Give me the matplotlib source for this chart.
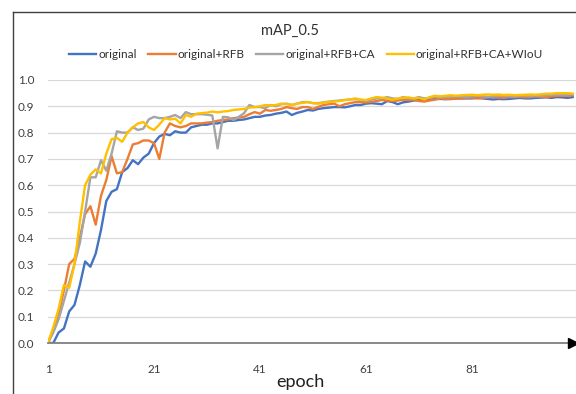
import matplotlib
matplotlib.use("Agg")
import matplotlib.pyplot as plt
from matplotlib.lines import Line2D
import numpy as np

plt.rcParams['font.family'] = ['Lato', 'DejaVu Sans']

epochs = list(range(1, 101))

original = [
    0.0, 0.0, 0.04, 0.055, 0.12, 0.145, 0.22, 0.31, 0.29, 0.34,
    0.43, 0.54, 0.575, 0.585, 0.65, 0.665, 0.695, 0.68, 0.705, 0.72,
    0.76, 0.785, 0.795, 0.79, 0.805, 0.80, 0.80, 0.82, 0.825, 0.83,
    0.83, 0.835, 0.835, 0.84, 0.845, 0.845, 0.848, 0.85, 0.855, 0.86,
    0.86, 0.865, 0.867, 0.872, 0.875, 0.88, 0.867, 0.875, 0.88, 0.886,
    0.884, 0.89, 0.893, 0.895, 0.897, 0.897, 0.896, 0.90, 0.905, 0.905,
    0.91, 0.912, 0.91, 0.908, 0.92, 0.916, 0.908, 0.915, 0.918, 0.922,
    0.924, 0.925, 0.926, 0.928, 0.928, 0.927, 0.929, 0.93, 0.93, 0.93,
    0.93, 0.932, 0.93, 0.928, 0.926, 0.928, 0.927, 0.928, 0.93, 0.932,
    0.93, 0.93, 0.932, 0.933, 0.934, 0.932, 0.935, 0.934, 0.932, 0.935,
]

rfb = [
    0.0, 0.05, 0.11, 0.20, 0.30, 0.32, 0.40, 0.49, 0.52, 0.45,
    0.56, 0.62, 0.71, 0.645, 0.65, 0.70, 0.755, 0.76, 0.77, 0.77,
    0.76, 0.70, 0.80, 0.835, 0.825, 0.82, 0.825, 0.835, 0.835, 0.835,
    0.838, 0.84, 0.845, 0.848, 0.85, 0.855, 0.857, 0.86, 0.87, 0.878,
    0.872, 0.886, 0.883, 0.886, 0.89, 0.897, 0.893, 0.89, 0.897, 0.897,
    0.89, 0.898, 0.905, 0.908, 0.91, 0.90, 0.908, 0.912, 0.916, 0.916,
    0.915, 0.917, 0.92, 0.924, 0.922, 0.92, 0.922, 0.925, 0.924, 0.925,
    0.92, 0.918, 0.922, 0.925, 0.93, 0.928, 0.927, 0.93, 0.93, 0.932,
    0.933, 0.93, 0.932, 0.934, 0.935, 0.933, 0.932, 0.935, 0.935, 0.936,
    0.934, 0.935, 0.937, 0.936, 0.935, 0.938, 0.94, 0.94, 0.94, 0.942,
]

rfb_ca = [
    0.0, 0.04, 0.09, 0.16, 0.23, 0.30, 0.38, 0.50, 0.63, 0.63,
    0.695, 0.655, 0.72, 0.805, 0.80, 0.80, 0.82, 0.81, 0.815, 0.85,
    0.86, 0.855, 0.855, 0.86, 0.867, 0.855, 0.878, 0.87, 0.87, 0.87,
    0.868, 0.865, 0.74, 0.86, 0.858, 0.848, 0.86, 0.874, 0.905, 0.897,
    0.897, 0.893, 0.905, 0.90, 0.908, 0.91, 0.905, 0.91, 0.916, 0.916,
    0.912, 0.912, 0.915, 0.918, 0.92, 0.922, 0.924, 0.926, 0.927, 0.925,
    0.92, 0.925, 0.93, 0.93, 0.935, 0.93, 0.928, 0.935, 0.93, 0.93,
    0.935, 0.93, 0.932, 0.935, 0.934, 0.935, 0.936, 0.938, 0.937, 0.936,
    0.938, 0.94, 0.938, 0.936, 0.938, 0.94, 0.94, 0.938, 0.937, 0.94,
    0.94, 0.938, 0.94, 0.94, 0.942, 0.944, 0.945, 0.944, 0.945, 0.945,
]

rfb_ca_wiou = [
    0.0, 0.06, 0.13, 0.22, 0.21, 0.30, 0.46, 0.60, 0.64, 0.66,
    0.645, 0.72, 0.775, 0.78, 0.765, 0.80, 0.82, 0.835, 0.84, 0.82,
    0.81, 0.83, 0.855, 0.85, 0.853, 0.835, 0.867, 0.86, 0.872, 0.874,
    0.876, 0.88, 0.877, 0.88, 0.882, 0.886, 0.888, 0.89, 0.895, 0.897,
    0.9, 0.905, 0.903, 0.905, 0.91, 0.908, 0.905, 0.91, 0.913, 0.916,
    0.912, 0.91, 0.914, 0.916, 0.918, 0.92, 0.924, 0.926, 0.93, 0.925,
    0.924, 0.93, 0.935, 0.933, 0.93, 0.925, 0.93, 0.932, 0.934, 0.93,
    0.932, 0.926, 0.935, 0.94, 0.938, 0.94, 0.942, 0.94, 0.942, 0.943,
    0.944, 0.942, 0.944, 0.945, 0.944, 0.945, 0.943, 0.944, 0.942, 0.943,
    0.944, 0.945, 0.944, 0.946, 0.948, 0.948, 0.95, 0.95, 0.95, 0.948,
]

series_names = ["original", "original+RFB", "original+RFB+CA", "original+RFB+CA+WIoU"]
series_values = [original, rfb, rfb_ca, rfb_ca_wiou]
colors = ["#4472C4", "#ED7D31", "#A5A5A5", "#FFC000"]

y_ticks = [0.0, 0.1, 0.2, 0.3, 0.4, 0.5, 0.6, 0.7, 0.8, 0.9, 1.0]
x_ticks = [1, 21, 41, 61, 81]

W, H = 576, 394
fig = plt.figure(figsize=(W / 100, H / 100), dpi=100)

# outer frame (partially cropped)
fig.add_artist(Line2D([12.5 / W, 12.5 / W], [0, 1 - 11.5 / H], transform=fig.transFigure,
                      color="#404040", linewidth=1.0))
fig.add_artist(Line2D([12.5 / W, 1], [1 - 11.5 / H, 1 - 11.5 / H], transform=fig.transFigure,
                      color="#404040", linewidth=1.0))

ax_left, ax_right = 48, 576
ax_top, ax_bottom = 80, 343
ax = fig.add_axes([ax_left / W, (H - ax_bottom) / H,
                   (ax_right - ax_left) / W, (ax_bottom - ax_top) / H])

px_per_epoch = 5.3
ax.set_xlim(1, 1 + (ax_right - ax_left) / px_per_epoch)
ax.set_ylim(0, 1.0)

for name, vals, c in zip(series_names, series_values, colors):
    ax.plot(epochs, vals, color=c, linewidth=1.7, label=name, solid_joinstyle='round')

ax.set_yticks(y_ticks)
ax.set_yticklabels([f"{v:.1f}" for v in y_ticks], fontsize=8.5, color="#404040")
ax.set_xticks(x_ticks)
ax.set_xticklabels([str(v) for v in x_ticks], fontsize=8.5, color="#404040")
ax.tick_params(axis='y', length=0, pad=10)
ax.tick_params(axis='x', length=0, pad=15)

ax.grid(axis='y', color="#D9D9D9", linewidth=0.9)
ax.set_axisbelow(True)
for s in ["left", "right", "top"]:
    ax.spines[s].set_visible(False)
ax.spines["bottom"].set_color("#808080")
ax.spines["bottom"].set_linewidth(1.3)
ax.spines["bottom"].set_zorder(5)

# arrow head at the end of the x axis
ax.plot([0.995], [0.0], marker='>', markersize=7, color="black",
        transform=ax.transAxes, clip_on=False, zorder=6)

fig.text(300 / W, 1 - 382 / H, "epoch", ha="center", va="center",
         fontsize=13, color="#202020")

fig.text(290 / W, 1 - 31 / H, "mAP_0.5", ha="center", va="center",
         fontsize=10.5, color="#303030")

handles, labels = ax.get_legend_handles_labels()
fig.legend(handles, labels, loc="center", bbox_to_anchor=(306 / W, 1 - 55 / H),
           ncol=4, frameon=False, fontsize=8.5, handlelength=2.3,
           handletextpad=0.15, columnspacing=1.0, labelcolor="#303030")

fig.savefig("out.png", dpi=100, facecolor="white")
